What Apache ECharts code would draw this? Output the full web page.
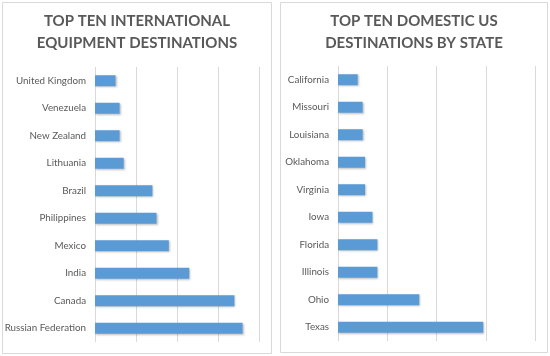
<!DOCTYPE html>
<html><head><meta charset="utf-8">
<script src="https://cdn.jsdelivr.net/npm/echarts@6/dist/echarts.min.js"></script>
<style>html,body{margin:0;padding:0;background:#fff}#c{width:550px;height:356px}</style>
</head><body><div id="c"></div>
<script>
const intlCategories = ['United Kingdom','Venezuela','New Zealand','Lithuania','Brazil','Philippines','Mexico','India','Canada','Russian Federation'];
const intlValues = [5, 6, 6, 7, 14, 15, 18, 23, 34, 36];
const usCategories = ['California','Missouri','Louisiana','Oklahoma','Virginia','Iowa','Florida','Illinois','Ohio','Texas'];
const usValues = [4, 5, 5, 5.5, 5.5, 7, 8, 8, 16.5, 29.5];
const titleLeft = ['TOP TEN INTERNATIONAL','EQUIPMENT DESTINATIONS'];
const titleRight = ['TOP TEN DOMESTIC US','DESTINATIONS BY STATE'];

const font = 'Lato, "Open Sans", sans-serif';
const chart = echarts.init(document.getElementById('c'), null, {renderer:'canvas'});
function valAxis(gi){
  return {type:'value', gridIndex:gi, min:0, max:40, interval:10,
    axisLabel:{show:false}, axisLine:{show:false}, axisTick:{show:false},
    splitLine:{show:true, lineStyle:{color:'#d9d9d9', width:1}}};
}
function catAxis(gi, cats){
  return {type:'category', gridIndex:gi, data:cats, inverse:true,
    axisLine:{show:false}, axisTick:{show:false},
    axisLabel:{color:'#595959', fontSize:9.8, fontFamily:font, margin:9}};
}
function barSeries(i, vals){
  return {type:'bar', xAxisIndex:i, yAxisIndex:i, data:vals, barWidth:'40%',
    itemStyle:{color:'#5b9bd5', shadowBlur:2, shadowColor:'rgba(0,0,0,0.25)', shadowOffsetX:1, shadowOffsetY:1},
    silent:true};
}
function titleText(x, lines){
  return {type:'text', x:x, y:10, style:{text:lines.join('\n'), fill:'#595959',
    font:'bold 15px ' + font, textAlign:'center', lineHeight:22}};
}
chart.setOption({
  animation:false,
  grid:[
    {left:95, right:291, top:67, bottom:14},
    {left:338, right:15, top:66, bottom:15}
  ],
  xAxis:[valAxis(0), valAxis(1)],
  yAxis:[catAxis(0, intlCategories), catAxis(1, usCategories)],
  series:[barSeries(0, intlValues), barSeries(1, usValues)],
  graphic:[
    {type:'rect', shape:{x:2.5, y:2.5, width:269, height:351}, style:{fill:'none', stroke:'#d9d9d9', lineWidth:1}},
    {type:'rect', shape:{x:280.5, y:2.5, width:267, height:350}, style:{fill:'none', stroke:'#d9d9d9', lineWidth:1}},
    titleText(137, titleLeft),
    titleText(414, titleRight)
  ]
});
</script></body></html>
